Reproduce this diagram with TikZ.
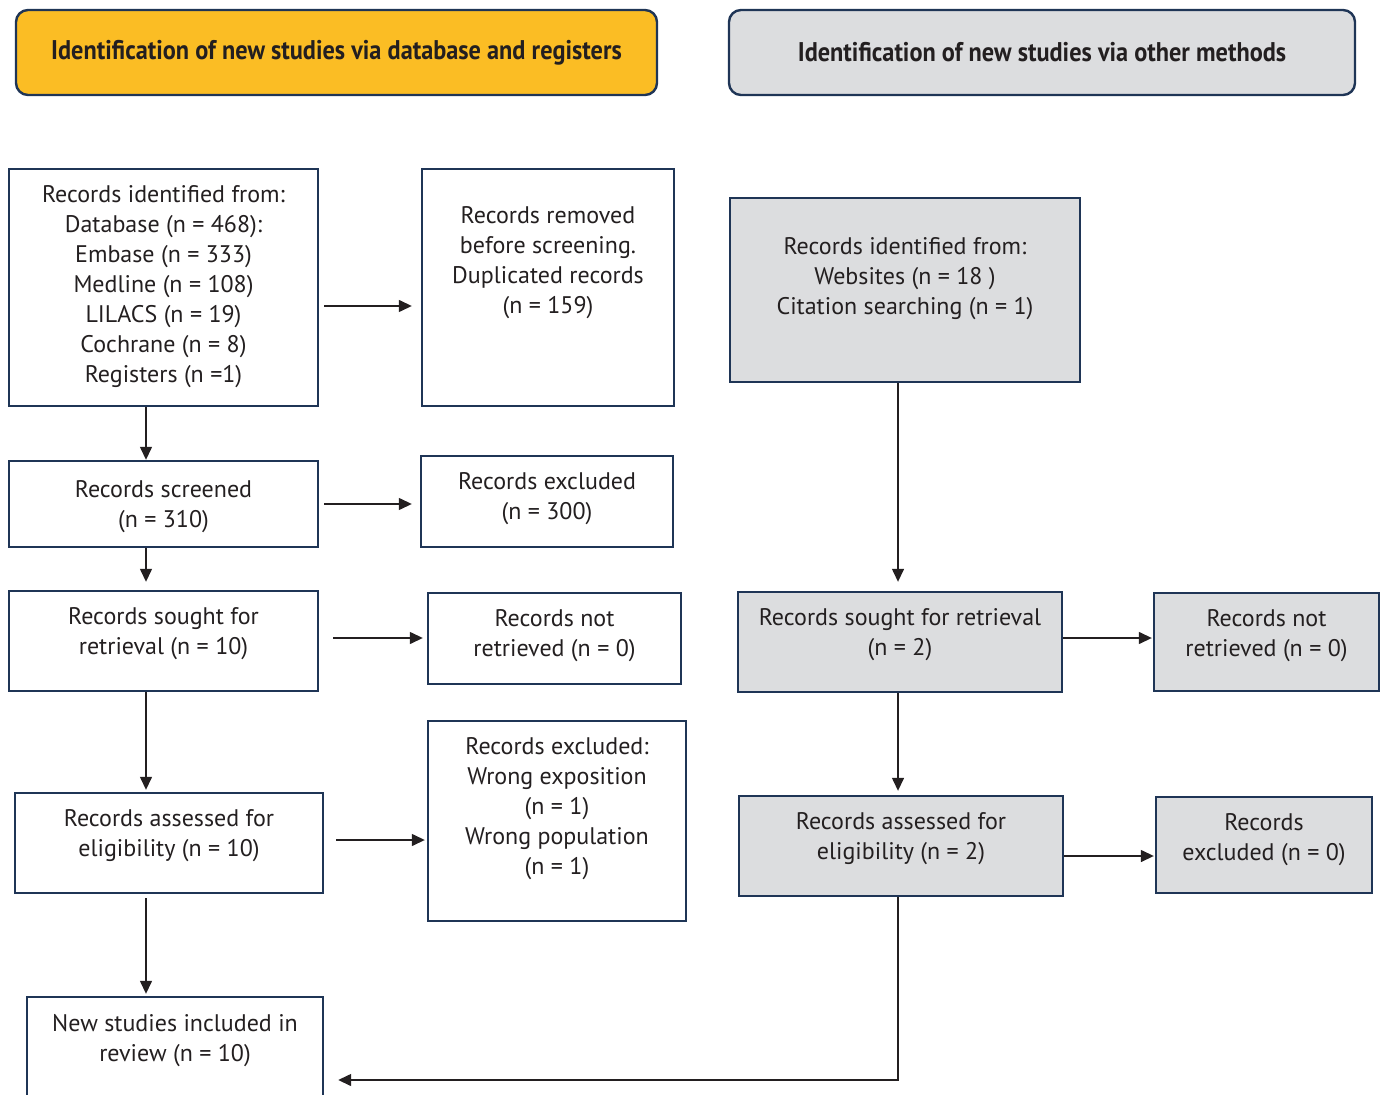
\documentclass[tikz,border=0pt]{standalone}
\usepackage{fontspec}
\setmainfont{PT Sans}
\newfontfamily\headfont[FakeStretch=0.9]{PT Sans}
\usetikzlibrary{arrows.meta,positioning}

\definecolor{navy}{HTML}{1F3556}
\definecolor{amber}{HTML}{FBBD24}
\definecolor{lightgrey}{HTML}{DCDDDF}
\definecolor{ink}{HTML}{231F20}

\tikzset{
  box/.style={draw=navy, line width=1.2pt, inner sep=0pt},
  greybox/.style={box, fill=lightgrey},
  head/.style={draw=navy, line width=1.2pt, rounded corners=6pt, text=ink,
    font=\headfont\bfseries\fontsize{13.5}{16}\selectfont},
  txt/.style={align=center, text=ink, font=\fontsize{12}{15}\selectfont},
  arr/.style={-{Triangle[length=6.5pt,width=6pt]}, line width=0.7pt, draw=ink}
}

\begin{document}
\begin{tikzpicture}[x=0.5pt, y=-0.5pt]
\useasboundingbox (0,0) rectangle (1384,1095);

\node[head, fill=amber, minimum width=320.5pt, minimum height=42.5pt] (hdb) at (336.5,52.5) {Identification of new studies via database and registers};
\node[head, fill=lightgrey, minimum width=313pt, minimum height=42.5pt] (hoth) at (1042,52.5) {Identification of new studies via other methods};

\node[box, minimum width=154.5pt, minimum height=118.5pt,
  label={[txt, yshift=0.25pt]center:{Records identified from:\\Database (n = 468):\\Embase (n = 333)\\Medline (n = 108)\\LILACS (n = 19)\\Cochrane (n = 8)\\Registers (n =1)}}] (a1) at (163.5,287.5) {};
\node[box, minimum width=126pt, minimum height=118.5pt,
  label={[txt, yshift=12.5pt]center:{Records removed\\before screening.\\Duplicated records\\(n = 159)}}] (b1) at (548,287.5) {};
\node[box, minimum width=154.5pt, minimum height=43pt,
  label={[txt, yshift=-1.5pt]center:{Records screened\\(n = 310)}}] (a2) at (163.5,504) {};
\node[box, minimum width=126pt, minimum height=45.5pt,
  label={[txt, yshift=1.25pt]center:{Records excluded\\(n = 300)}}] (b2) at (547,501.5) {};
\node[box, minimum width=154.5pt, minimum height=50pt,
  label={[txt, yshift=3.5pt]center:{Records sought for\\retrieval (n = 10)}}] (a3) at (163.5,641) {};
\node[box, minimum width=126.5pt, minimum height=45.5pt,
  label={[txt, yshift=1.25pt]center:{Records not\\retrieved (n = 0)}}] (b3) at (554.5,638.5) {};
\node[box, minimum width=154pt, minimum height=50pt,
  label={[txt, yshift=3.5pt]center:{Records assessed for\\eligibility (n = 10)}}] (a4) at (169,843) {};
\node[box, minimum width=129pt, minimum height=100pt,
  label={[txt, yshift=6pt]center:{Records excluded:\\Wrong exposition\\(n = 1)\\Wrong population\\(n = 1)}}] (b4) at (557,821) {};
\node[box, minimum width=148pt, minimum height=51.5pt,
  label={[txt, yshift=3.75pt]center:{New studies included in\\review (n = 10)}}] (a5) at (175,1048.5) {};

\node[greybox, minimum width=175pt, minimum height=92pt,
  label={[txt, yshift=5.5pt]center:{Records identified from:\\Websites (n = 18 )\\Citation searching (n = 1)}}] (c1) at (905,290) {};
\node[greybox, minimum width=162pt, minimum height=50pt,
  label={[txt, yshift=3.5pt]center:{Records sought for retrieval\\(n = 2)}}] (c3) at (900,642) {};
\node[greybox, minimum width=112.5pt, minimum height=49pt,
  label={[txt, yshift=3pt]center:{Records not\\retrieved (n = 0)}}] (d3) at (1266.5,642) {};
\node[greybox, minimum width=162pt, minimum height=50pt,
  label={[txt, yshift=3.5pt]center:{Records assessed for\\eligibility (n = 2)}}] (c4) at (901,846) {};
\node[greybox, minimum width=108pt, minimum height=48pt,
  label={[txt, yshift=2.5pt]center:{Records\\excluded (n = 0)}}] (d4) at (1264,845) {};

\draw[arr, shorten <=2.5pt, shorten >=4.5pt] ([yshift=-9.25pt]a1.east) -- ([yshift=-9.25pt]a1.east -| b1.west);
\draw[arr, shorten <=2.5pt, shorten >=4pt] (a2.east) -- (a2.east -| b2.west);
\draw[arr, shorten <=7pt, shorten >=2pt] ([yshift=1.5pt]a3.east) -- ([yshift=1.5pt]a3.east -| b3.west);
\draw[arr, shorten <=6pt, shorten >=1pt] ([yshift=1.5pt]a4.east) -- ([yshift=1.5pt]a4.east -| b4.west);

\draw[arr] ([xshift=-8.75pt]a1.south) -- ([xshift=-8.75pt]a1.south |- a2.north);
\draw[arr, shorten >=4pt] ([xshift=-8.75pt]a2.south) -- ([xshift=-8.75pt]a2.south |- a3.north);
\draw[arr, shorten >=1pt] ([xshift=-8.75pt]a3.south) -- ([xshift=-8.75pt]a3.south |- a4.north);
\draw[arr, shorten <=2pt, shorten >=1pt] ([xshift=-11.5pt]a4.south) -- ([xshift=-11.5pt]a4.south |- a5.north);

\draw[arr, shorten >=4.5pt] ([xshift=-3.5pt]c1.south) -- ([xshift=-3.5pt]c1.south |- c3.north);
\draw[arr, shorten >=2pt] ([xshift=-1pt]c3.south) -- ([xshift=-1pt]c3.south |- c4.north);
\draw[arr, shorten >=0.5pt] ([yshift=2pt]c3.east) -- ([yshift=2pt]c3.east -| d3.west);
\draw[arr, shorten >=0.5pt] ([yshift=-5pt]c4.east) -- ([yshift=-5pt]c4.east -| d4.west);
\draw[arr, shorten >=7pt] ([xshift=-1.5pt]c4.south) |- ([yshift=-15.75pt]a5.east);
\end{tikzpicture}
\end{document}
